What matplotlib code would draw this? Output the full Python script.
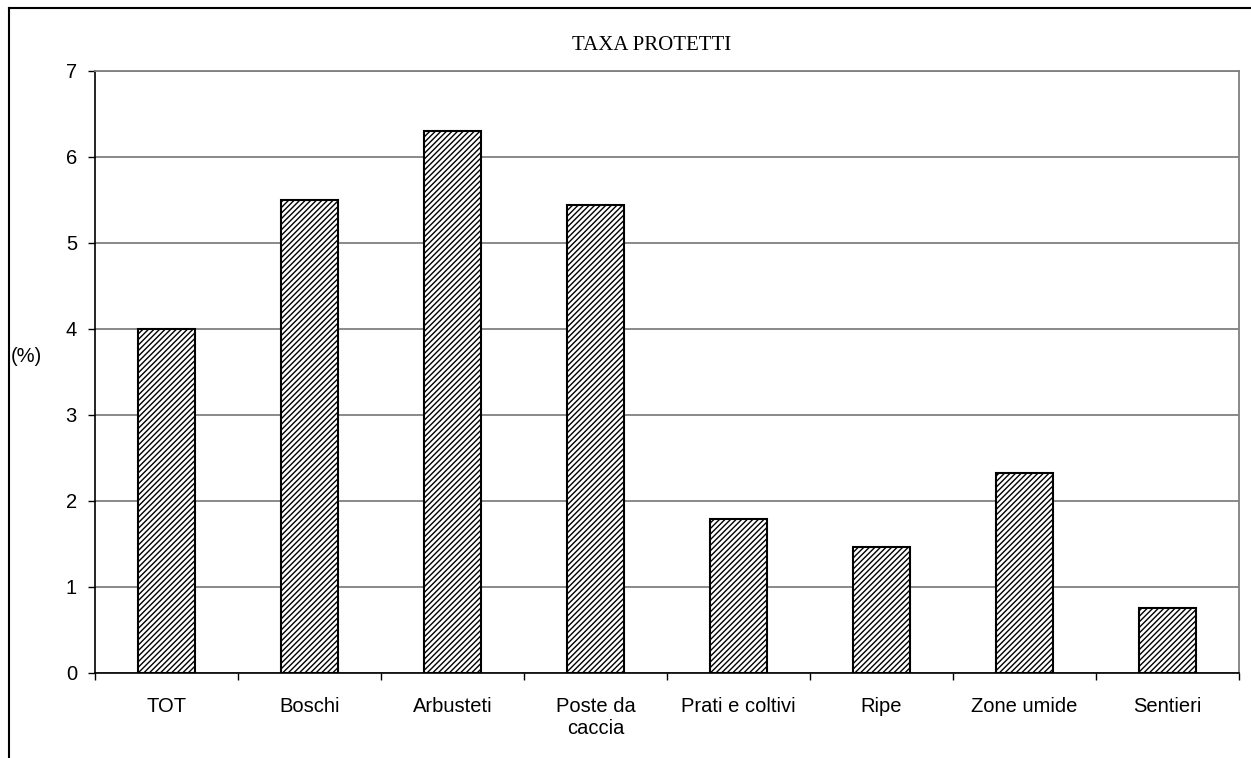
import matplotlib
matplotlib.use("Agg")
import matplotlib.pyplot as plt
from matplotlib.lines import Line2D
import numpy as np

categorie = ['TOT', 'Boschi', 'Arbusteti', 'Poste da\ncaccia', 'Prati e coltivi',
             'Ripe', 'Zone umide', 'Sentieri']
valori = [4.0, 5.5, 6.3, 5.44, 1.79, 1.465, 2.33, 0.755]
yticks = [0, 1, 2, 3, 4, 5, 6, 7]

plt.rcParams['hatch.linewidth'] = 1.0
plt.rcParams['font.family'] = ['Liberation Sans', 'DejaVu Sans']

fig = plt.figure(figsize=(12.51, 7.58), dpi=100)
ax = fig.add_axes([95 / 1251, 1 - 673 / 758, (1239 - 95) / 1251, (673 - 71) / 758])

x = np.arange(len(categorie))
ax.bar(x, valori, width=0.405, color='white', edgecolor='black', linewidth=1.5,
       hatch='//////', zorder=3)

ax.set_xlim(-0.5, len(categorie) - 0.5)
ax.set_ylim(0, 7)
ax.set_yticks(yticks)
ax.yaxis.grid(True, color='#808080', linewidth=1.3, zorder=0)

# tacche sui bordi delle categorie, etichette al centro
ax.set_xticks(np.arange(len(categorie) + 1) - 0.5)
ax.set_xticklabels([])
ax.set_xticks(x, minor=True)
ax.set_xticklabels(categorie, minor=True, fontsize=14.5)
ax.tick_params(axis='x', which='minor', length=0, pad=17)
ax.tick_params(axis='x', which='major', length=5, direction='out', width=1)
ax.tick_params(axis='y', length=5, direction='out', width=1, labelsize=14.5, pad=8)

for s in ['top', 'right']:
    ax.spines[s].set_color('#808080')
    ax.spines[s].set_linewidth(1.3)
for s in ['left', 'bottom']:
    ax.spines[s].set_color('black')
    ax.spines[s].set_linewidth(1.2)

fig.text(652 / 1251, 1 - 45 / 758, 'TAXA PROTETTI', ha='center', va='center',
         fontsize=15, family=['Liberation Serif', 'DejaVu Serif'])
fig.text(26 / 1251, 1 - 357 / 758, '(%)', ha='center', va='center', fontsize=14.5)

# cornice del grafico
fig.add_artist(Line2D([8.5 / 1251, 8.5 / 1251], [0, 1 - 7.5 / 758], color='black',
                      linewidth=1.5, transform=fig.transFigure))
fig.add_artist(Line2D([8.5 / 1251, 1], [1 - 7.5 / 758, 1 - 7.5 / 758], color='black',
                      linewidth=1.5, transform=fig.transFigure))

fig.savefig('out.png', dpi=100)
